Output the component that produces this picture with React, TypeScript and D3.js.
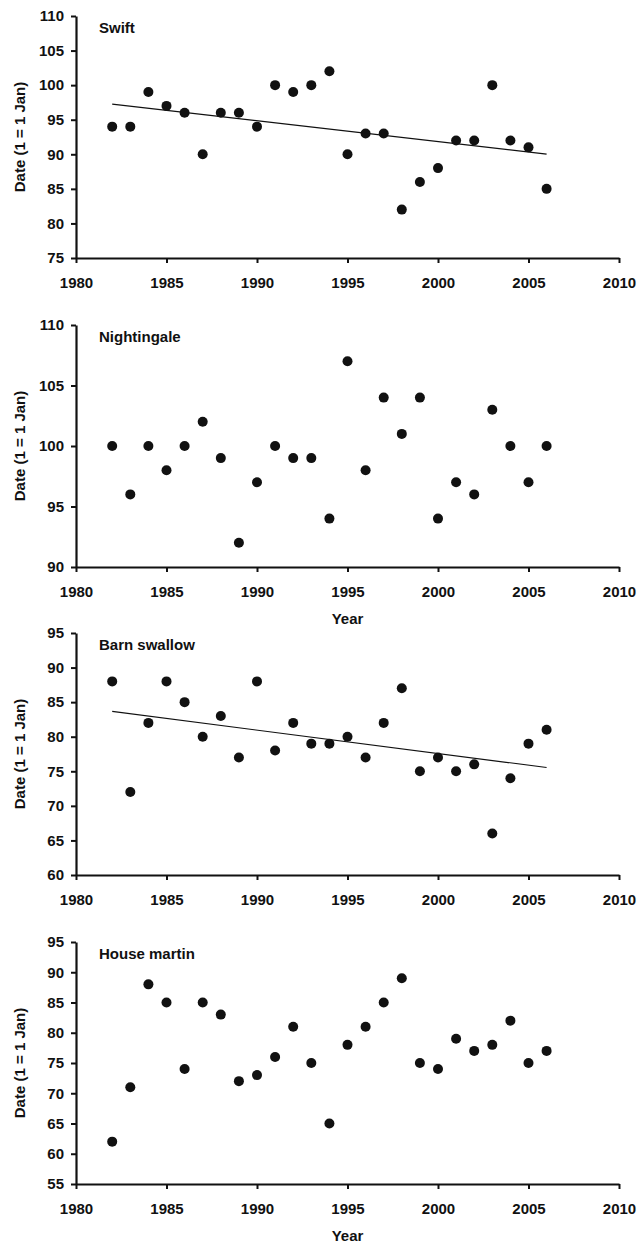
import React, { useEffect, useRef } from "react";
import * as d3 from "d3";

const years = [1982, 1983, 1984, 1985, 1986, 1987, 1988, 1989, 1990, 1991, 1992, 1993, 1994,
  1995, 1996, 1997, 1998, 1999, 2000, 2001, 2002, 2003, 2004, 2005, 2006];

const swift = [94, 94, 99, 97, 96, 90, 96, 96, 94, 100, 99, 100, 102, 90, 93, 93, 82, 86, 88, 92, 92, 100, 92, 91, 85];
const nightingale = [100, 96, 100, 98, 100, 102, 99, 92, 97, 100, 99, 99, 94, 107, 98, 104, 101, 104, 94, 97, 96, 103, 100, 97, 100];
const barnSwallow = [88, 72, 82, 88, 85, 80, 83, 77, 88, 78, 82, 79, 79, 80, 77, 82, 87, 75, 77, 75, 76, 66, 74, 79, 81];
const houseMartin = [62, 71, 88, 85, 74, 85, 83, 72, 73, 76, 81, 75, 65, 78, 81, 85, 89, 75, 74, 79, 77, 78, 82, 75, 77];

const xTicks = [1980, 1985, 1990, 1995, 2000, 2005, 2010];
const swiftTicks = [75, 80, 85, 90, 95, 100, 105, 110];
const nightingaleTicks = [90, 95, 100, 105, 110];
const barnTicks = [60, 65, 70, 75, 80, 85, 90, 95];
const martinTicks = [55, 60, 65, 70, 75, 80, 85, 90, 95];

const panels = [
  { name: "Swift", values: swift, ticks: swiftTicks, trend: true, yearLabel: false },
  { name: "Nightingale", values: nightingale, ticks: nightingaleTicks, trend: false, yearLabel: true },
  { name: "Barn swallow", values: barnSwallow, ticks: barnTicks, trend: true, yearLabel: false },
  { name: "House martin", values: houseMartin, ticks: martinTicks, trend: false, yearLabel: true },
];

const WIDTH = 641;
const HEIGHT = 1243;
const panelTops = [16, 325, 633, 942];
const plotH = 242;
const left = 76;
const right = 619;
const font = "'Liberation Sans', Arial, sans-serif";

export default function App() {
  const ref = useRef<SVGSVGElement>(null);

  useEffect(() => {
    document.body.style.margin = "0";
    const svg = d3.select(ref.current);
    svg.selectAll("*").remove();

    const x = d3.scaleLinear().domain([1980, 2010]).range([left, right]);

    panels.forEach((p, i) => {
      const top = panelTops[i];
      const bottom = top + plotH;
      const y = d3.scaleLinear()
        .domain([p.ticks[0], p.ticks[p.ticks.length - 1]])
        .range([bottom, top]);

      const g = svg.append("g");

      const xAxis = g.append("g")
        .attr("transform", `translate(0,${bottom})`)
        .call(d3.axisBottom(x).tickValues(xTicks).tickFormat(d3.format("d")).tickSize(5).tickSizeOuter(0));
      const yAxis = g.append("g")
        .attr("transform", `translate(${left},0)`)
        .call(d3.axisLeft(y).tickValues(p.ticks).tickSize(5).tickSizeOuter(0));

      [xAxis, yAxis].forEach(a => {
        a.select(".domain").attr("stroke", "#111").attr("stroke-width", 2.2);
        a.selectAll(".tick line").attr("stroke", "#111").attr("stroke-width", 2);
        a.selectAll(".tick text")
          .attr("fill", "#111")
          .style("font-family", font)
          .style("font-size", "15px")
          .style("font-weight", "bold");
      });
      xAxis.selectAll(".tick text").attr("dy", "1.45em");
      yAxis.selectAll(".tick text").attr("x", -12);

      if (p.trend) {
        // least-squares fit across the years
        const pts = years.map((yr, j) => [yr, p.values[j]] as [number, number]);
        const mx = d3.mean(pts, d => d[0])!;
        const my = d3.mean(pts, d => d[1])!;
        const slope = d3.sum(pts, d => (d[0] - mx) * (d[1] - my)) / d3.sum(pts, d => (d[0] - mx) ** 2);
        const ends = d3.extent(years) as [number, number];
        const line = d3.line<number>().x(d => x(d)).y(d => y(my + slope * (d - mx)));
        g.append("path")
          .datum(ends)
          .attr("fill", "none")
          .attr("stroke", "#111")
          .attr("stroke-width", 1.2)
          .attr("d", line);
      }

      g.selectAll("circle.dot")
        .data(years)
        .join("circle")
        .attr("class", "dot")
        .attr("cx", d => x(d))
        .attr("cy", (d, j) => y(p.values[j]))
        .attr("r", 5)
        .attr("fill", "#111");

      g.append("text")
        .attr("x", 99)
        .attr("y", top + 17)
        .style("font-family", font)
        .style("font-size", "15px")
        .style("font-weight", "bold")
        .attr("fill", "#111")
        .text(p.name);

      g.append("text")
        .attr("transform", "rotate(-90)")
        .attr("x", -(top + plotH / 2))
        .attr("y", 25)
        .attr("text-anchor", "middle")
        .style("font-family", font)
        .style("font-size", "15px")
        .style("font-weight", "bold")
        .attr("fill", "#111")
        .text("Date (1 = 1 Jan)");

      if (p.yearLabel) {
        g.append("text")
          .attr("x", (left + right) / 2)
          .attr("y", bottom + 57)
          .attr("text-anchor", "middle")
          .style("font-family", font)
          .style("font-size", "15px")
          .style("font-weight", "bold")
          .attr("fill", "#111")
          .text("Year");
      }
    });
  }, []);

  return <svg ref={ref} width={WIDTH} height={HEIGHT} style={{ display: "block", background: "#fff" }} />;
}
